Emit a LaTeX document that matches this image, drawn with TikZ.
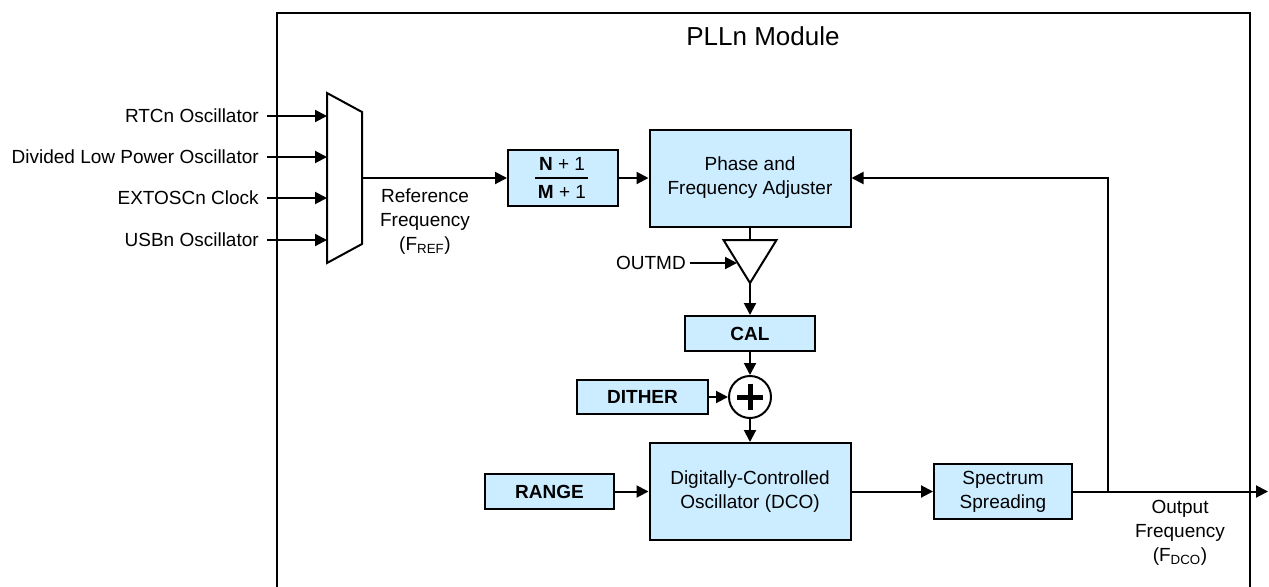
\documentclass[tikz,border=0pt]{standalone}
\usepackage{fontspec}
\setmainfont{Liberation Sans}
\usepackage{tikz}
\usetikzlibrary{arrows.meta}
\usetikzlibrary{shapes.geometric}
\usetikzlibrary{calc}
\definecolor{blockblue}{RGB}{204,236,255}
\tikzstyle{wire}=[line width=1.5pt]
\tikzstyle{sig}=[line width=1.5pt,-{Triangle[length=9pt,width=9pt]}]
\tikzstyle{blk}=[draw,line width=1.5pt,fill=blockblue,align=center,inner sep=0pt]
\tikzstyle{lbl}=[align=center]

\begin{document}
\begin{tikzpicture}[x=0.75pt,y=-0.75pt,font=\fontsize{14.25pt}{18pt}\selectfont]
\useasboundingbox (0,0) rectangle (1269,586);
\draw[wire] (277,600) -- (277,13) -- (1250,13) -- (1250,600);
\node[font=\fontsize{19.5pt}{24pt}\selectfont] (title) at (763,36) {PLLn Module};
% input selector
\coordinate (m1) at (327,93);
\coordinate (m2) at (362,112);
\coordinate (m3) at (362,244);
\coordinate (m4) at (327,263);
\coordinate (mout) at (362,178);
\draw[wire,fill=white] (m1) -- (m2) -- (m3) -- (m4) -- cycle;
\foreach \i/\y/\t in {1/116/RTCn Oscillator,2/157/Divided Low Power Oscillator,3/198/EXTOSCn Clock,4/240/USBn Oscillator} {
	\node[lbl,anchor=east,inner xsep=6pt] (src\i) at (267,\y) {\t};
	\coordinate (in\i) at (327,\y);
	\draw[sig] (src\i) -- (in\i);
}
\node[lbl] (fref) at (425,222) {Reference\\Frequency\\(F\textsubscript{REF})};
% divider
\node[blk,minimum width=82.5pt,minimum height=42pt] (nm) at (563,178) {};
\node (nplus) at (562,164) {\textbf{N} + 1};
\node (mplus) at (562,192) {\textbf{M} + 1};
\draw[wire] (535,178) -- (588,178);
\draw[sig] (mout) -- (nm);
\node[blk,minimum width=150.75pt,minimum height=72.75pt] (pfa) at (750,178) {Phase and\\Frequency Adjuster};
\draw[sig] (nm) -- (pfa);
% output buffer
\coordinate (b1) at (723.5,240);
\coordinate (b2) at (776.5,240);
\coordinate (b3) at (750,283);
\coordinate (btop) at (750,240);
\coordinate (bin) at (737,263);
\draw[wire] (pfa.south) -- (btop);
\draw[wire,line join=miter] (b1) -- (b2) -- (b3) -- cycle;
\node[anchor=east,inner xsep=3pt] (outmd) at (690,263) {OUTMD};
\draw[sig] (outmd) -- (bin);
\node[blk,minimum width=97.5pt,minimum height=26.25pt] (cal) at (750,333.5) {\textbf{CAL}};
\draw[sig] (b3) -- (cal);
\node[draw,circle,line width=1.5pt,minimum size=31.5pt,inner sep=0pt,fill=white] (sum) at (750,397) {};
\draw[line width=3.75pt] ($(sum.center)+(-13,0)$) -- ($(sum.center)+(13,0)$);
\draw[line width=3.75pt] ($(sum.center)+(0,-13)$) -- ($(sum.center)+(0,13)$);
\draw[sig] (cal) -- (sum);
\node[blk,minimum width=98.25pt,minimum height=25.5pt] (dith) at (642.5,397) {\textbf{DITHER}};
\draw[sig] (dith) -- (sum);
\node[blk,minimum width=150.75pt,minimum height=72.75pt] (dco) at (750,491.5) {Digitally-Controlled\\Oscillator (DCO)};
\draw[sig] (sum) -- (dco);
\node[blk,minimum width=96.75pt,minimum height=26.25pt] (range) at (549.5,491.5) {\textbf{RANGE}};
\draw[sig] (range) -- (dco);
\node[blk,minimum width=103.5pt,minimum height=41.25pt] (spec) at (1003,491.5) {Spectrum\\Spreading};
\draw[sig] (dco) -- (spec);
% output and feedback
\coordinate (tap) at (1108,491.5);
\coordinate (out) at (1268,491.5);
\draw[sig] (spec) -- (out);
\draw[sig] (tap) |- (pfa);
\node[lbl] (fdco) at (1180,533) {Output\\Frequency\\(F\textsubscript{DCO})};
\end{tikzpicture}
\end{document}
